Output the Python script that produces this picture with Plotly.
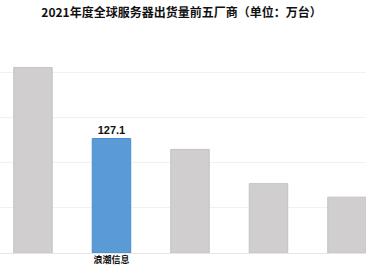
import plotly.graph_objects as go

categories = ["戴尔", "浪潮信息", "惠普", "联想", "超微"]
values = [206, 127.1, 115, 77, 62]
tick_labels = ["", "<b>浪潮信息</b>", "", "", ""]
highlight = "浪潮信息"

colors = ["#5b9bd5" if c == highlight else "#d0cece" for c in categories]
line_colors = ["#4a8ad0" if c == highlight else "#c4c2c2" for c in categories]
texts = [f"<b>{v}</b>" if c == highlight else "" for c, v in zip(categories, values)]

fig = go.Figure(go.Bar(
    x=categories, y=values,
    marker=dict(color=colors, line=dict(color=line_colors, width=1)),
    width=0.49,
    text=texts, textposition="outside",
    textfont=dict(family="Liberation Sans, Arial", size=11, color="#111111"),
    cliponaxis=False,
))

fig.update_layout(
    width=366, height=274,
    margin=dict(l=0, r=0, t=40, b=21),
    paper_bgcolor="white", plot_bgcolor="white",
    showlegend=False,
    title=dict(text="<b>2021年度全球服务器出货量前五厂商（单位：万台）</b>",
               x=0.496, xanchor="center", y=0.953, yanchor="middle",
               font=dict(family="Noto Sans CJK SC", size=12, color="#111111")),
    xaxis=dict(range=[-0.42, 4.242], tickvals=categories, ticktext=tick_labels,
               showgrid=False, showline=False, ticks="",
               tickfont=dict(family="Noto Sans CJK SC", size=9, color="#111111")),
    yaxis=dict(range=[0, 236.5], dtick=50, showticklabels=False,
               gridcolor="#f1f1f1", gridwidth=1, zeroline=True,
               zerolinecolor="#e6e6e6", zerolinewidth=1),
    bargap=0.51,
)

fig.write_html("out.html")
